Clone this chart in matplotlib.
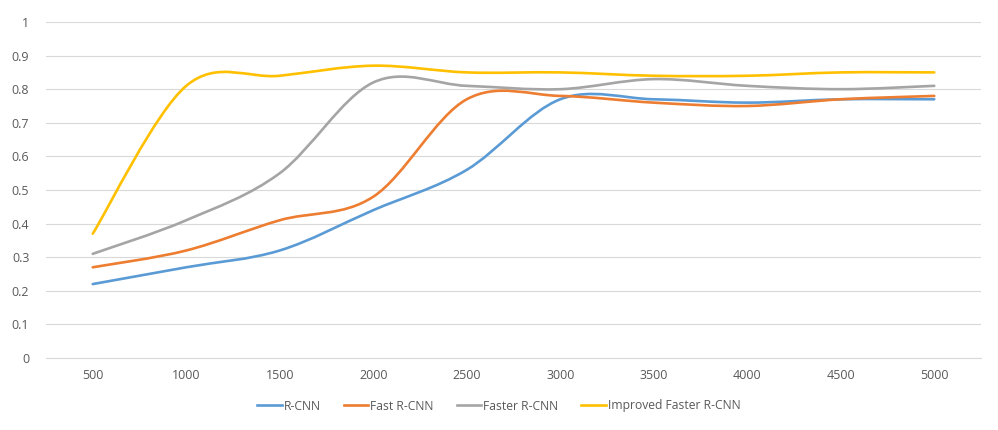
import matplotlib
matplotlib.use("Agg")
import matplotlib.pyplot as plt
from matplotlib.path import Path
from matplotlib.patches import PathPatch
from matplotlib.lines import Line2D
import numpy as np

categories = ["500", "1000", "1500", "2000", "2500", "3000", "3500", "4000", "4500", "5000"]
rcnn = [0.22, 0.27, 0.32, 0.44, 0.56, 0.77, 0.77, 0.76, 0.77, 0.77]
fast_rcnn = [0.27, 0.32, 0.41, 0.48, 0.77, 0.78, 0.76, 0.75, 0.77, 0.78]
faster_rcnn = [0.31, 0.41, 0.55, 0.82, 0.81, 0.80, 0.83, 0.81, 0.80, 0.81]
improved = [0.37, 0.81, 0.84, 0.87, 0.85, 0.85, 0.84, 0.84, 0.85, 0.85]
names = ["R-CNN", "Fast R-CNN", "Faster R-CNN", "Improved Faster R-CNN"]
colors = ["#5B9BD5", "#ED7D31", "#A5A5A5", "#FFC000"]

plt.rcParams['font.family'] = ['Open Sans', 'DejaVu Sans']


def smooth_path(x, y):
    # Excel-style smoothed line: cubic Bezier through the points (Catmull-Rom tangents)
    x = np.asarray(x, float)
    y = np.asarray(y, float)
    n = len(x)
    verts = [(x[0], y[0])]
    codes = [Path.MOVETO]
    for i in range(n - 1):
        p0 = i - 1 if i > 0 else i
        p3 = i + 2 if i + 2 < n else i + 1
        c1 = (x[i] + (x[i + 1] - x[p0]) / 6, y[i] + (y[i + 1] - y[p0]) / 6)
        c2 = (x[i + 1] - (x[p3] - x[i]) / 6, y[i + 1] - (y[p3] - y[i]) / 6)
        verts += [c1, c2, (x[i + 1], y[i + 1])]
        codes += [Path.CURVE4] * 3
    return Path(verts, codes)


fig = plt.figure(figsize=(9.98, 4.3), dpi=100)
ax = fig.add_axes([46 / 998, 72 / 430, 935 / 998, 336 / 430])

xs = np.arange(len(categories))
for vals, c in zip([rcnn, fast_rcnn, faster_rcnn, improved], colors):
    patch = PathPatch(smooth_path(xs, vals), facecolor="none", edgecolor=c,
                      lw=1.9, capstyle="round", joinstyle="round")
    ax.add_patch(patch)

ax.set_xlim(-0.5, len(categories) - 0.5)
ax.set_ylim(0, 1)
ax.set_xticks(xs)
ax.set_xticklabels(categories)
ax.set_yticks(np.arange(0, 1.01, 0.1))
ax.set_yticklabels(["0", "0.1", "0.2", "0.3", "0.4", "0.5", "0.6", "0.7", "0.8", "0.9", "1"])
ax.tick_params(length=0, labelsize=9, colors="#595959", pad=8)
ax.tick_params(axis="y", pad=12)
ax.grid(axis="y", color="#D9D9D9", lw=0.8)
ax.set_axisbelow(True)
for s in ["top", "right", "left"]:
    ax.spines[s].set_visible(False)
ax.spines["bottom"].set_color("#D9D9D9")
ax.spines["bottom"].set_linewidth(0.8)

handles = [Line2D([0], [0], color=c, lw=1.9) for c in colors]
fig.legend(handles, names, loc="center", bbox_to_anchor=(0.5, 24 / 430), ncol=4,
           frameon=False, fontsize=8.7, labelcolor="#595959", handlelength=2.0,
           handletextpad=0.2, columnspacing=1.9)

fig.savefig("out.png", dpi=100)
